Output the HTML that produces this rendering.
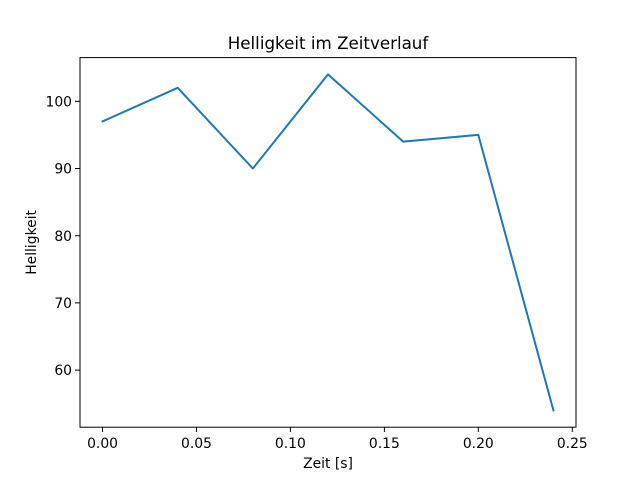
<!DOCTYPE html>
<html><head><meta charset="utf-8"><style>body{margin:0;background:#fff}svg{display:block}text{font-family:"DejaVu Sans",sans-serif;fill:#000}</style></head>
<body>
<svg width="640" height="480" viewBox="0 0 640 480" xmlns="http://www.w3.org/2000/svg">
<rect width="640" height="480" fill="#fff"/>
<polyline fill="none" stroke="#1f77b4" stroke-width="2" stroke-linejoin="round" stroke-linecap="square" points="102.55,121.4 177.7,87.84 252.85,168.5 328,74.4 403.15,141.6 478.3,134.9 553.45,410.4"/>
<rect x="80" y="57.6" width="496" height="369.6" fill="none" stroke="#000" stroke-width="1"/>
<g stroke="#000" stroke-width="1">
<line x1="102.55" y1="427.2" x2="102.55" y2="432"/>
<line x1="196.5" y1="427.2" x2="196.5" y2="432"/>
<line x1="290.4" y1="427.2" x2="290.4" y2="432"/>
<line x1="384.4" y1="427.2" x2="384.4" y2="432"/>
<line x1="478.3" y1="427.2" x2="478.3" y2="432"/>
<line x1="572.3" y1="427.2" x2="572.3" y2="432"/>
<line x1="80" y1="101.3" x2="75" y2="101.3"/>
<line x1="80" y1="168.5" x2="75" y2="168.5"/>
<line x1="80" y1="235.7" x2="75" y2="235.7"/>
<line x1="80" y1="302.9" x2="75" y2="302.9"/>
<line x1="80" y1="370.1" x2="75" y2="370.1"/>
</g>
<g font-size="13.9" text-anchor="middle">
<text x="102.55" y="448">0.00</text>
<text x="196.5" y="448">0.05</text>
<text x="290.4" y="448">0.10</text>
<text x="384.4" y="448">0.15</text>
<text x="478.3" y="448">0.20</text>
<text x="572.3" y="448">0.25</text>
</g>
<g font-size="13.9" text-anchor="end">
<text x="72" y="106.4">100</text>
<text x="72" y="173.6">90</text>
<text x="72" y="240.8">80</text>
<text x="72" y="308">70</text>
<text x="72" y="375.2">60</text>
</g>
<text x="328" y="468" font-size="13.9" text-anchor="middle">Zeit [s]</text>
<text transform="translate(36,242.4) rotate(-90)" font-size="13.9" text-anchor="middle">Helligkeit</text>
<text x="328" y="49" font-size="16.7" text-anchor="middle">Helligkeit im Zeitverlauf</text>
</svg>
</body></html>
